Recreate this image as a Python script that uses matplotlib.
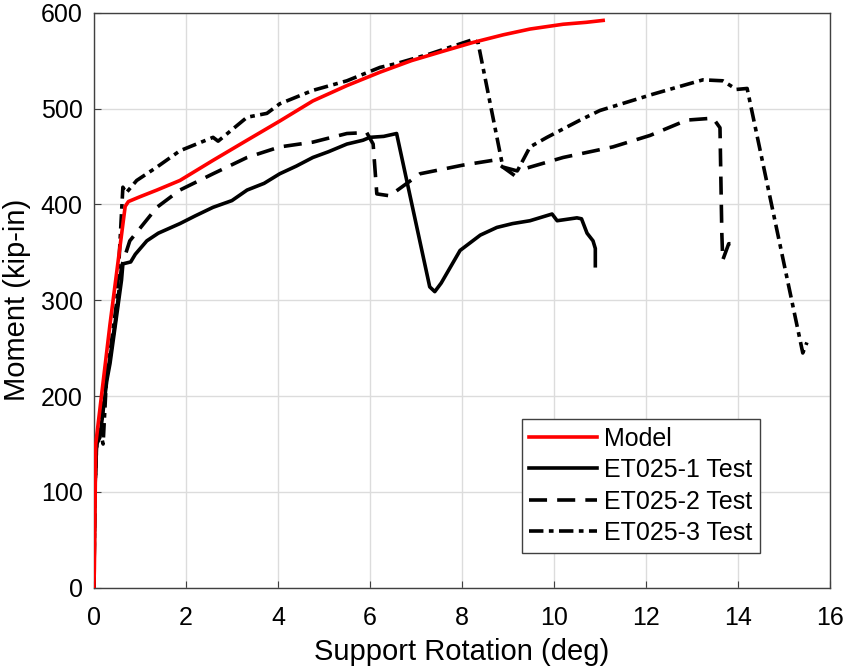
import numpy as np
import matplotlib
matplotlib.use('Agg')
import matplotlib.pyplot as plt

plt.rcParams['font.family'] = ['Liberation Sans', 'DejaVu Sans']

# Model (numerical)
model_x = [0, 0.01, 0.04, 0.35, 0.68, 0.75, 1.0, 1.37, 1.87, 2.59, 3.33, 4.04, 4.76, 5.5,
           6.22, 6.9, 7.6, 8.24, 8.9, 9.48, 10.2, 10.7, 11.07]
model_y = [0, 20, 150, 275, 398, 403, 408, 415, 425, 446, 467, 487, 508, 524,
           538, 550, 560, 569, 577, 583, 588, 590, 592]

# ET025-1 test
t1_x = [0, 0.02, 0.06, 0.13, 0.28, 0.35, 0.5, 0.6, 0.63, 0.8, 0.9, 1.15, 1.4, 1.87, 2.2,
        2.59, 3.0, 3.33, 3.7, 4.04, 4.4, 4.76, 5.1, 5.5, 5.85, 6.0, 6.3, 6.58,
        7.3, 7.41, 7.55, 7.96, 8.4, 8.76, 9.1, 9.48, 9.96, 10.07, 10.5, 10.6,
        10.72, 10.85, 10.9, 10.9]
t1_y = [0, 100, 150, 157, 216, 234, 286, 321, 338, 340, 348, 362, 370, 380, 388,
        397, 404, 415, 422, 432, 440, 449, 455, 463, 467, 470, 471, 474,
        314, 309, 318, 352, 368, 376, 380, 383, 390, 383, 386, 385,
        370, 362, 354, 336]

# ET025-2 test
t2_x = [0, 0.02, 0.06, 0.13, 0.28, 0.35, 0.5, 0.6, 0.78, 1.0, 1.37, 1.87, 2.59, 3.33,
        4.04, 4.76, 5.5, 5.93, 6.07, 6.15, 6.43, 7.09, 8.02, 8.67, 8.89, 9.2,
        10.2, 11.28, 12.09, 12.89, 13.46, 13.61, 13.65, 13.67, 13.8, 14.04]
t2_y = [0, 100, 150, 160, 220, 240, 290, 335, 362, 375, 397, 415, 432, 449,
        460, 465, 474, 475, 463, 411, 409, 432, 441, 446, 439, 435,
        449, 460, 472, 488, 490, 480, 370, 342, 359, 359]

# ET025-3 test
t3_x = [0, 0.02, 0.06, 0.13, 0.2, 0.28, 0.35, 0.5, 0.63, 0.7, 0.93, 1.37, 1.87, 2.59,
        2.7, 3.33, 3.76, 4.04, 4.76, 5.5, 6.22, 6.58, 7.3, 8.24, 8.35, 8.89, 9.15,
        9.48, 9.85, 10.57, 11.0, 12.15, 12.8, 13.24, 13.67, 13.97, 14.2, 15.41, 15.5]
t3_y = [0, 100, 150, 165, 150, 225, 245, 300, 418, 412, 425, 439, 456, 470,
        466, 491, 495, 505, 519, 529, 543, 547, 557, 572, 569, 439, 430,
        460, 470, 488, 498, 515, 524, 530, 529, 520, 521, 245, 256]

fig = plt.figure(figsize=(8.46, 6.71), dpi=100)
ax = fig.add_axes([0.111, 0.124, 0.870, 0.857])

lw = 2.6
ax.plot(model_x, model_y, color='#ff0000', lw=lw, label='Model', zorder=5)
ax.plot(t1_x, t1_y, color='k', lw=lw, label='ET025-1 Test')
ax.plot(t2_x, t2_y, color='k', lw=lw, dashes=(5, 2.8), label='ET025-2 Test')
ax.plot(t3_x, t3_y, color='k', lw=lw, dashes=(4, 1.5, 1.3, 1.5), label='ET025-3 Test')

ax.set_xlim(0, 16)
ax.set_ylim(0, 600)
ax.set_xticks(np.arange(0, 17, 2))
ax.set_yticks(np.arange(0, 601, 100))
ax.grid(True, color='#dcdcdc', lw=1.0)
ax.set_axisbelow(True)
ax.tick_params(direction='in', length=5, labelsize=18, color='#404040')
ax.tick_params(axis='x', pad=13)
ax.tick_params(axis='y', pad=8)
for s in ax.spines.values():
    s.set_color('#404040')
    s.set_linewidth(1.0)

ax.set_xlabel('Support Rotation (deg)', fontsize=21, labelpad=6)
ax.set_ylabel('Moment (kip-in)', fontsize=21, labelpad=7)

leg = ax.legend(loc='lower right', bbox_to_anchor=(0.905, 0.061), fontsize=18,
                fancybox=False, framealpha=1, edgecolor='#404040',
                handlelength=2.7, handletextpad=0.3, borderpad=0.3,
                labelspacing=0.3, borderaxespad=0)
leg.get_frame().set_linewidth(1.0)

fig.savefig('out.png', dpi=100)
